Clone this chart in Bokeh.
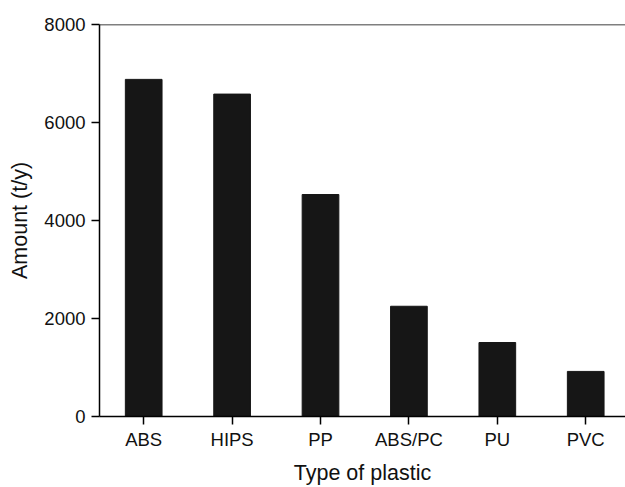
from bokeh.plotting import figure
from bokeh.models import Range1d, FixedTicker, Span, ColumnDataSource
from bokeh.embed import file_html
from bokeh.resources import INLINE

categories = ["ABS", "HIPS", "PP", "ABS/PC", "PU", "PVC"]
amounts = [6880, 6580, 4530, 2250, 1510, 920]
y_ticks = [0, 2000, 4000, 6000, 8000]

positions = list(range(1, len(categories) + 1))
src = ColumnDataSource(data=dict(x=positions, top=amounts))

p = figure(width=625, height=487, output_backend="svg", toolbar_location=None,
           x_range=Range1d(0.5, 6.45), y_range=Range1d(0, 8000),
           min_border_left=99, min_border_right=0, min_border_top=24, min_border_bottom=71)
p.vbar(x="x", top="top", width=0.415, bottom=0, source=src,
       fill_color="#161616", line_color="#161616")

p.outline_line_color = None
p.grid.grid_line_color = None
p.add_layout(Span(location=8000, dimension="width", line_color="black", line_width=1.5))

font = "Liberation Sans"
p.xaxis.ticker = FixedTicker(ticks=positions)
p.xaxis.major_label_overrides = {i: c for i, c in zip(positions, categories)}
p.yaxis.ticker = FixedTicker(ticks=y_ticks)
for ax in (p.xaxis[0], p.yaxis[0]):
    ax.axis_line_color = "black"
    ax.axis_line_width = 1.5
    ax.major_tick_line_color = "black"
    ax.major_tick_line_width = 1.5
    ax.major_tick_in = 0
    ax.major_tick_out = 8
    ax.minor_tick_line_color = None
    ax.major_label_text_font = font
    ax.major_label_text_font_size = "18.5px"
    ax.major_label_text_color = "#111111"
    ax.axis_label_text_font = font
    ax.axis_label_text_font_size = "21.5px"
    ax.axis_label_text_font_style = "normal"
    ax.axis_label_text_color = "#111111"
p.xaxis.axis_label = "Type of plastic"
p.yaxis.axis_label = "Amount (t/y)"
p.xaxis.major_label_standoff = 4
p.xaxis.axis_label_standoff = 8
p.yaxis.major_label_standoff = 6
p.yaxis.axis_label_standoff = 9

open("out.html", "w").write(file_html(p, INLINE))
